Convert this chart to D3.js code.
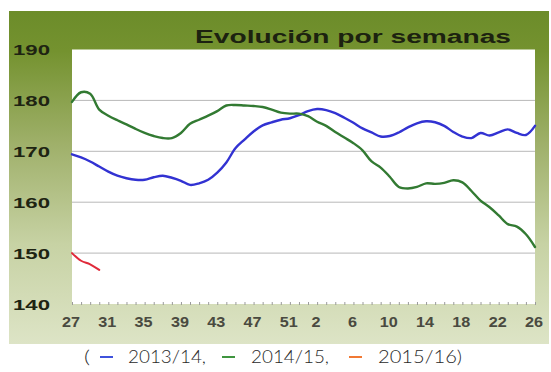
<!DOCTYPE html>
<html>
<head>
<meta charset="utf-8">
<script src="https://cdn.jsdelivr.net/npm/d3@7"></script>
<style>
  html, body { margin: 0; padding: 0; background: #fff; }
  svg { display: block; }
</style>
</head>
<body>
<svg id="chart" width="551" height="372"></svg>
<script>
// Marketing-year weeks: 27..52 then 1..26
const weeks = [27,28,29,30,31,32,33,34,35,36,37,38,39,40,41,42,43,44,45,46,47,48,49,50,51,52,
               1,2,3,4,5,6,7,8,9,10,11,12,13,14,15,16,17,18,19,20,21,22,23,24,25,26];
const weekLabels = [27,31,35,39,43,47,51,2,6,10,14,18,22,26];
const yTicks = [140,150,160,170,180,190];

const s2013 = [169.4,168.8,168.0,167.0,166.0,165.2,164.7,164.4,164.4,164.9,165.2,164.8,164.2,163.4,
               163.7,164.4,165.8,167.8,170.6,172.3,173.9,175.1,175.7,176.2,176.5,177.1,177.9,178.3,
               178.1,177.5,176.6,175.6,174.5,173.7,172.9,173.0,173.7,174.7,175.5,175.9,175.7,175.0,
               173.8,172.9,172.6,173.6,173.1,173.7,174.3,173.6,173.2,175.0];
const s2014 = [179.7,181.6,181.3,178.2,177.0,176.1,175.3,174.4,173.6,173.0,172.6,172.6,173.6,175.4,
               176.2,177.0,177.9,179.0,179.1,179.0,178.9,178.7,178.2,177.6,177.4,177.4,176.9,175.8,
               175.0,173.8,172.7,171.6,170.2,168.0,166.8,165.0,163.0,162.7,163.0,163.7,163.6,163.8,
               164.3,163.9,162.2,160.3,159.0,157.4,155.7,155.2,153.7,151.2];
const s2015 = [150.0,148.5,147.8,146.7];

const seriesNames = ["2013/14", "2014/15", "2015/16"];
const lineColors = ["#3232d2", "#327a32", "#e02a3a"];
const legendColors = ["#2a3fd8", "#2a8a2a", "#f06a1e"];

const svg = d3.select("#chart");
const defs = svg.append("defs");

// Panel background: olive at the top fading to pale green at the bottom
const grad = defs.append("linearGradient")
  .attr("id", "panelGrad").attr("x1", 0).attr("y1", 0).attr("x2", 0).attr("y2", 1);
grad.append("stop").attr("offset", "0%").attr("stop-color", "#6c8c2a");
grad.append("stop").attr("offset", "12%").attr("stop-color", "#74922f");
grad.append("stop").attr("offset", "40%").attr("stop-color", "#9fb06a");
grad.append("stop").attr("offset", "70%").attr("stop-color", "#c7d2a4");
grad.append("stop").attr("offset", "100%").attr("stop-color", "#dde4c6");

svg.append("rect")
  .attr("x", 9).attr("y", 11).attr("width", 540).attr("height", 333)
  .attr("fill", "url(#panelGrad)");

const plot = { left: 72, right: 535, top: 49.5, bottom: 304 };

const x = d3.scalePoint().domain(d3.range(weeks.length)).range([plot.left, plot.right]);
const y = d3.scaleLinear().domain([140, 190]).range([plot.bottom, plot.top]);

// Plot area
svg.append("rect")
  .attr("x", plot.left).attr("y", plot.top)
  .attr("width", plot.right - plot.left).attr("height", plot.bottom - plot.top)
  .attr("fill", "#ffffff");

// Horizontal gridlines
svg.append("g")
  .selectAll("line")
  .data(yTicks.filter(v => v > 140 && v < 190))
  .join("line")
  .attr("x1", plot.left).attr("x2", plot.right)
  .attr("y1", d => y(d)).attr("y2", d => y(d))
  .attr("stroke", "#b8b8b8").attr("stroke-width", 1);

// Weekly minor ticks along the bottom edge
const xAxis = d3.axisBottom(x).tickSize(-3).tickFormat("");
const gx = svg.append("g").attr("transform", `translate(0,${plot.bottom + 1})`).call(xAxis);
gx.select(".domain").remove();
gx.selectAll(".tick line").attr("stroke", "#9a9a9a");

// Week labels
svg.append("g")
  .selectAll("text")
  .data(weekLabels)
  .join("text")
  .attr("x", d => x(weeks.indexOf(d)) - 1)
  .attr("y", 327)
  .attr("text-anchor", "middle")
  .attr("font-family", "'Liberation Sans', Arial, sans-serif")
  .attr("font-size", 15)
  .attr("font-weight", "bold")
  .attr("fill", "#4a4a40")
  .attr("textLength", d => String(d).length * 9)
  .attr("lengthAdjust", "spacingAndGlyphs")
  .text(d => d);

// Y labels
const yAxis = d3.axisLeft(y).tickValues(yTicks).tickSize(0).tickPadding(0);
const gy = svg.append("g").attr("transform", "translate(13,0)").call(yAxis);
gy.select(".domain").remove();
gy.selectAll(".tick text")
  .attr("text-anchor", "start")
  .attr("dy", "0.36em")
  .attr("font-family", "'Liberation Sans', Arial, sans-serif")
  .attr("font-size", 15)
  .attr("font-weight", "bold")
  .attr("fill", "#1e2412")
  .attr("textLength", 37)
  .attr("lengthAdjust", "spacingAndGlyphs");

// Title
svg.append("text")
  .attr("x", 195).attr("y", 43)
  .attr("font-family", "'Liberation Sans', Arial, sans-serif")
  .attr("font-size", 18)
  .attr("font-weight", "bold")
  .attr("fill", "#1c2210")
  .attr("textLength", 316)
  .attr("lengthAdjust", "spacingAndGlyphs")
  .text("Evolución por semanas");

// Lines
const line = d3.line()
  .x((d, i) => x(i))
  .y(d => y(d))
  .curve(d3.curveCatmullRom.alpha(0.5));

[s2013, s2014, s2015].forEach((s, k) => {
  svg.append("path")
    .datum(s)
    .attr("fill", "none")
    .attr("stroke", lineColors[k])
    .attr("stroke-width", k === 2 ? 2 : 2.4)
    .attr("stroke-linejoin", "round")
    .attr("stroke-linecap", "round")
    .attr("d", line);
});

// Legend below the panel
const legendFont = { family: "Lato, 'Open Sans', sans-serif", size: 17 };
const legend = svg.append("g").attr("class", "legend");
const legendText = (xPos, str, len) => legend.append("text")
  .attr("x", xPos).attr("y", 363)
  .attr("font-family", legendFont.family)
  .attr("font-size", legendFont.size)
  .attr("font-weight", 300)
  .attr("fill", "#2a2a2a")
  .attr("textLength", len)
  .attr("lengthAdjust", "spacingAndGlyphs")
  .text(str);

legendText(84, "(", 6);
const dashX = [100, 222, 349];
const labelX = [128, 251, 378];
seriesNames.forEach((name, k) => {
  legend.append("line")
    .attr("x1", dashX[k]).attr("x2", dashX[k] + 13)
    .attr("y1", 357).attr("y2", 357)
    .attr("stroke", legendColors[k]).attr("stroke-width", 1.8);
  legendText(labelX[k], name + (k < 2 ? "," : ")"), k < 2 ? 78 : 84);
});
</script>
</body>
</html>
